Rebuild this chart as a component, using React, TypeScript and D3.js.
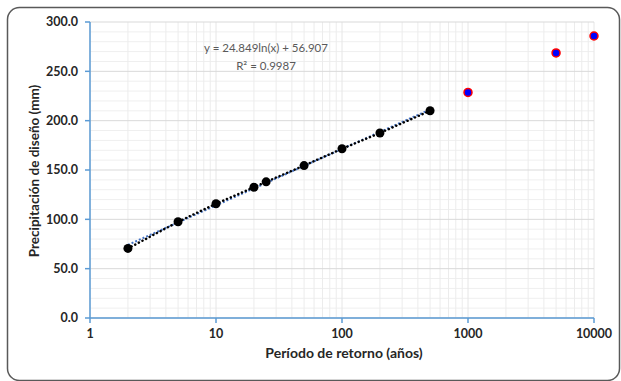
import React from "react";
import * as d3 from "d3";

const periods = [2, 5, 10, 20, 25, 50, 100, 200, 500];
const precip = [70.5, 97.5, 115.8, 132.5, 138.0, 154.5, 171.5, 187.5, 210.0];
const extraPeriods = [1000, 5000, 10000];
const extraPrecip = [228.6, 268.6, 285.8];
const trendA = 24.849;
const trendB = 56.907;
const xTicks = [1, 10, 100, 1000, 10000];
const yTicks = [0, 50, 100, 150, 200, 250, 300];
const equationText = "y = 24.849ln(x) + 56.907";
const r2Text = "R² = 0.9987";
const xTitle = "Período de retorno (años)";
const yTitle = "Precipitación de diseño (mm)";

const W = 621;
const H = 381;
const left = 90;
const right = 594;
const top = 22;
const bottom = 318;
const font = "Lato, 'Open Sans', sans-serif";

export default function App() {
  const x = d3.scaleLog().domain([1, 10000]).range([left, right]);
  const y = d3.scaleLinear().domain([0, 300]).range([bottom, top]);

  const minorX: number[] = [];
  for (let d = 1; d < 10000; d *= 10) {
    for (let k = 2; k <= 9; k++) minorX.push(d * k);
  }
  const minorY = d3.range(0, 301, 10).filter((v) => v % 50 !== 0);

  const trendXs = d3.range(0, 201).map((i) => 2 * Math.pow(250, i / 200));
  const trendLine = d3
    .line<number>()
    .x((v) => x(v))
    .y((v) => y(trendA * Math.log(v) + trendB))(trendXs);
  const dataLine = d3
    .line<number>()
    .x((_, i) => x(periods[i]))
    .y((v) => y(v))(precip);

  return (
    <svg
      width={W}
      height={H}
      style={{ position: "absolute", left: 0, top: 0, background: "#fff" }}
    >
      <rect x={7.5} y={7.5} width={612} height={373} rx={12} fill="#fff" stroke="#595959" strokeWidth={1.5} />
      {/* minor grid */}
      {minorY.map((v) => (
        <line key={"my" + v} x1={left} x2={right} y1={y(v)} y2={y(v)} stroke="#efefef" strokeWidth={1} />
      ))}
      {minorX.map((v) => (
        <line key={"mx" + v} x1={x(v)} x2={x(v)} y1={top} y2={bottom} stroke="#ececec" strokeWidth={1} />
      ))}
      {xTicks.map((v) => (
        <line key={"gx" + v} x1={x(v)} x2={x(v)} y1={top} y2={bottom} stroke="#e6e6e6" strokeWidth={1} />
      ))}
      {yTicks.map((v) => (
        <line key={"gy" + v} x1={left} x2={right} y1={y(v)} y2={y(v)} stroke="#d9d9d9" strokeWidth={1} />
      ))}
      {/* axes */}
      <line x1={left} x2={left} y1={top} y2={bottom} stroke="#5b9bd5" strokeWidth={1.5} />
      <line x1={left} x2={right} y1={bottom} y2={bottom} stroke="#5b9bd5" strokeWidth={1.5} />
      {yTicks.map((v) => (
        <g key={"yt" + v}>
          <line x1={left - 5} x2={left} y1={y(v)} y2={y(v)} stroke="#5b9bd5" strokeWidth={1.5} />
          <text x={left - 12} y={y(v)} dy="0.35em" textAnchor="end" fontFamily={font} fontWeight="bold" fontSize={12.5} fill="#262626">
            {v.toFixed(1)}
          </text>
        </g>
      ))}
      {xTicks.map((v) => (
        <g key={"xt" + v}>
          <line x1={x(v)} x2={x(v)} y1={bottom} y2={bottom + 5} stroke="#5b9bd5" strokeWidth={1.5} />
          <text x={x(v)} y={bottom + 20} textAnchor="middle" fontFamily={font} fontWeight="bold" fontSize={12.5} fill="#262626">
            {v}
          </text>
        </g>
      ))}
      {/* lines */}
      <path d={trendLine || ""} fill="none" stroke="#4472c4" strokeWidth={2} strokeDasharray="2,2" />
      <path d={dataLine || ""} fill="none" stroke="#000" strokeWidth={2.5} strokeDasharray="0.1,4" strokeLinecap="round" />
      {/* points */}
      {precip.map((v, i) => (
        <circle key={"p" + i} cx={x(periods[i])} cy={y(v)} r={4.5} fill="#000" />
      ))}
      {extraPrecip.map((v, i) => (
        <circle key={"e" + i} cx={x(extraPeriods[i])} cy={y(v)} r={4} fill="#0000ff" stroke="#ff0000" strokeWidth={1.5} />
      ))}
      {/* equation */}
      <text x={266} y={48} dy="0.35em" textAnchor="middle" fontFamily={font} fontSize={11.5} fill="#595959">
        {equationText}
      </text>
      <text x={266} y={66} dy="0.35em" textAnchor="middle" fontFamily={font} fontSize={11.5} fill="#595959">
        {r2Text}
      </text>
      {/* titles */}
      <text x={344} y={358} textAnchor="middle" fontFamily={font} fontWeight="bold" fontSize={14} fill="#262626">
        {xTitle}
      </text>
      <text
        transform={`translate(39,${(top + bottom) / 2 + 1}) rotate(-90)`}
        textAnchor="middle"
        fontFamily={font}
        fontWeight="bold"
        fontSize={13.5}
        fill="#262626"
      >
        {yTitle}
      </text>
    </svg>
  );
}
